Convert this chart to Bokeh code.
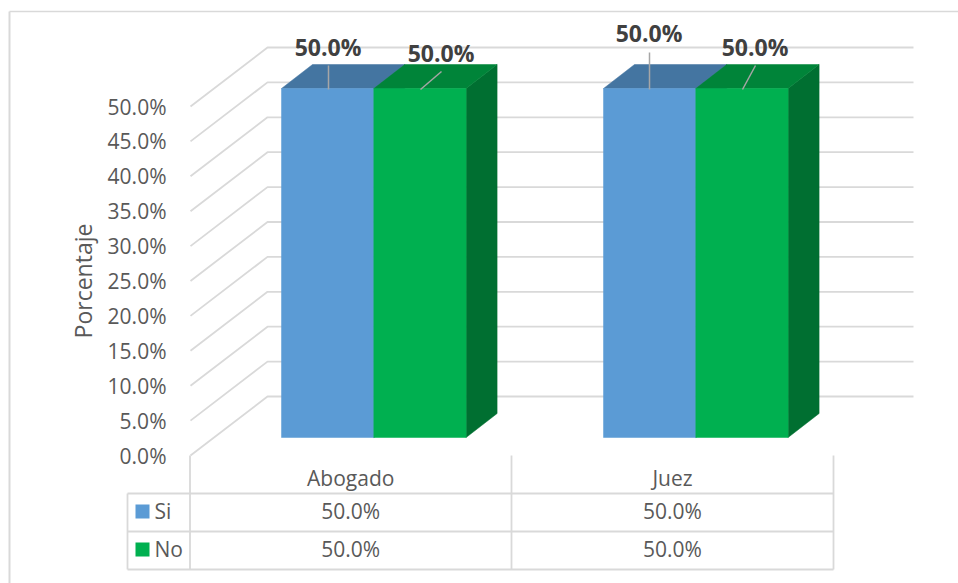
from bokeh.plotting import figure
from bokeh.embed import file_html
from bokeh.resources import INLINE
from bokeh.models import Range1d, LinearAxis, FixedTicker, NumeralTickFormatter
from bokeh.core.properties import value

categories = ["Abogado", "Juez"]
series = ["Si", "No"]
si_values = [0.5, 0.5]
no_values = [0.5, 0.5]
y_ticks = [0.0, 0.05, 0.1, 0.15, 0.2, 0.25, 0.3, 0.35, 0.4, 0.45, 0.5]
axis_title = "Porcentaje"
fmt = "0.0%"

W, H = 958, 583
# pixel layout of the reference
PX0, PY0 = 190.0, 455.0           # origin of the front wall corner
CAT = 321.5                       # category width
PY_UNIT = 349.0 / 0.5             # pixels per unit of value
X = lambda px: (px - PX0) / CAT
Y = lambda py: (PY0 - py) / PY_UNIT
DX, DY = X(PX0 + 77) - X(PX0), 59 / PY_UNIT    # wall depth
FONT = "Open Sans"
GRID = "#d9d9d9"
TXT = "#595959"
SIZE = "21px"

p = figure(width=W, height=H, output_backend="svg", toolbar_location=None,
           x_range=Range1d(X(0), X(W)), y_range=Range1d(Y(H), Y(0)),
           x_axis_type=None, y_axis_type=None, min_border=0,
           outline_line_color=None, background_fill_color="white", border_fill_color="white")
p.grid.visible = False

# chart border (continues past the picture on the right and at the bottom)
p.line([X(9), X(9)], [Y(11), Y(590)], line_color=GRID, line_width=2)
p.line([X(9), X(965)], [Y(11), Y(11)], line_color=GRID, line_width=1.3)

# walls
for t in y_ticks:
    p.line([0, DX, X(913)], [t, t + DY, t + DY], line_color=GRID, line_width=1.8)

# bars
DEPTH_X, DEPTH_Y = X(31) - X(0), 24 / PY_UNIT
BAR_W = 92.3 / CAT
OFFS = [X(281), X(603)]
BASE = Y(437)
colors = {
    "Si": ("#5b9bd5", "#4475a1", "#3e6a92"),
    "No": ("#00b050", "#008439", "#006f31"),
}
for i, cat in enumerate(categories):
    for j, (name, vals) in enumerate(zip(series, (si_values, no_values))):
        x0 = OFFS[i] + j * BAR_W
        x1 = x0 + BAR_W
        top = BASE + vals[i]
        front, topc, side = colors[name]
        p.patch([x1, x1 + DEPTH_X, x1 + DEPTH_X, x1],
                [BASE, BASE + DEPTH_Y, top + DEPTH_Y, top], fill_color=side, line_color=side, line_width=0.5)
        p.patch([x0, x1, x1 + DEPTH_X, x0 + DEPTH_X],
                [top, top, top + DEPTH_Y, top + DEPTH_Y], fill_color=topc, line_color=topc, line_width=0.5)
        p.quad(left=x0, right=x1, bottom=BASE, top=top, fill_color=front, line_color=front, line_width=0.5)

# leader lines and data labels
leaders = [((328, 65), (328, 89)), ((441, 71), (420, 89)), ((649, 52), (649, 89)), ((755, 65), (742, 89))]
for (a, b), (c, d) in leaders:
    p.line([X(a), X(c)], [Y(b), Y(d)], line_color="#a6a6a6", line_width=1.5)
lab_pos = [(327.5, 46), (440.5, 52), (648.5, 32), (754.5, 46)]
for (lx, ly), v in zip(lab_pos, [si_values[0], no_values[0], si_values[1], no_values[1]]):
    p.text([X(lx)], [Y(ly)], text=[f"{v*100:.1f}%"], text_font=value(FONT), text_font_style="bold",
           text_font_size="23px", text_color="#404040", text_align="center", text_baseline="middle")

# data table
row_px = [493, 531, 569]
col_px = [189.5, 511, 833]
for r in row_px:
    p.line([X(127), X(833)], [Y(r), Y(r)], line_color=GRID, line_width=1.8)
for c in col_px:
    p.line([X(c), X(c)], [Y(455), Y(569)], line_color=GRID, line_width=1.8)
p.line([X(127), X(127)], [Y(493), Y(569)], line_color=GRID, line_width=1.8)
for i, cat in enumerate(categories):
    cx = (col_px[i] + col_px[i + 1]) / 2
    p.text([X(cx)], [Y(477.5)], text=[cat], text_font=value(FONT), text_font_size=SIZE, text_color=TXT,
           text_align="center", text_baseline="middle")
    for r, vals in enumerate((si_values, no_values)):
        p.text([X(cx)], [Y(510 + r * 38)], text=[f"{vals[i]*100:.1f}%"], text_font=value(FONT),
               text_font_size=SIZE, text_color=TXT, text_align="center", text_baseline="middle")
for r, name in enumerate(series):
    ym = 511 + r * 38
    p.quad(left=X(135), right=X(149), bottom=Y(ym + 7), top=Y(ym - 7), fill_color=colors[name][0], line_color=None)
    p.text([X(154)], [Y(ym - 1)], text=[name], text_font=value(FONT), text_font_size=SIZE, text_color=TXT,
           text_align="left", text_baseline="middle")

# value axis pinned to the front-left edge of the wall
ax = LinearAxis(fixed_location=0, bounds=(0, 0.5), ticker=FixedTicker(ticks=y_ticks),
                formatter=NumeralTickFormatter(format=fmt), axis_line_color=None,
                major_tick_line_color=None, minor_tick_line_color=None,
                major_label_text_font=FONT, major_label_text_font_size=SIZE,
                major_label_text_color=TXT, major_label_standoff=18,
                axis_label=axis_title, axis_label_text_font=FONT, axis_label_text_font_size="23px",
                axis_label_text_color=TXT, axis_label_text_font_style="normal", axis_label_standoff=6)
p.add_layout(ax, "left")

open("out.html", "w").write(file_html(p, INLINE))
